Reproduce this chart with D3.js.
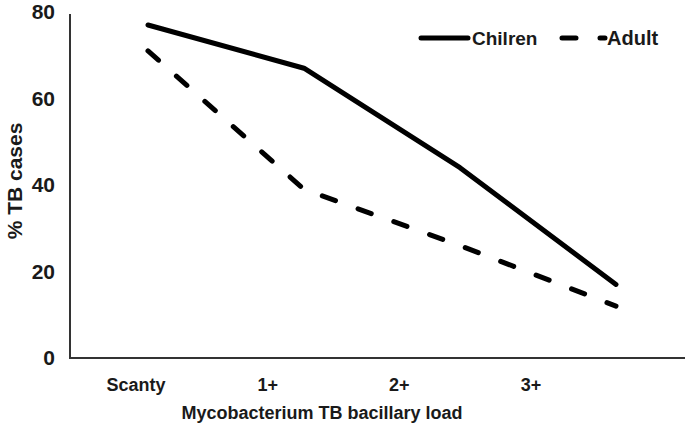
<!DOCTYPE html>
<html>
<head>
<meta charset="utf-8">
<script src="https://cdn.jsdelivr.net/npm/d3@7"></script>
<style>
  html, body { margin: 0; padding: 0; background: #fff; }
  svg { display: block; }
  text { font-family: "Liberation Sans", Arial, sans-serif; font-weight: bold; fill: #1a1a1a; }
</style>
</head>
<body>
<svg id="chart" width="685" height="434"></svg>
<script>
const categories = ["Scanty", "1+", "2+", "3+"];
const children = [77, 67, 44, 17];
const adult = [71, 39, 26, 12];
const yTicks = [0, 20, 40, 60, 80];
const seriesNames = ["Chilren", "Adult"];
const xTitle = "Mycobacterium TB bacillary load";
const yTitle = "% TB cases";

const svg = d3.select("#chart");
const W = 685, H = 434;

const x = d3.scaleBand().domain(categories).range([70, 694]);
const xl = d3.scalePoint().domain(categories).range([136, 531]);
const y = d3.scaleLinear().domain([0, 80]).range([358, 12]);

// axes lines
svg.append("line").attr("x1", x.range()[0]).attr("x2", W).attr("y1", y(0)).attr("y2", y(0))
  .attr("stroke", "#333").attr("stroke-width", 2);
svg.append("line").attr("x1", x.range()[0]).attr("x2", x.range()[0]).attr("y1", y(0) + 1).attr("y2", y(80) + 2)
  .attr("stroke", "#333").attr("stroke-width", 2);

// y tick labels
svg.append("g").selectAll("text").data(yTicks).join("text")
  .attr("x", 55).attr("y", d => y(d)).attr("dy", "0.35em")
  .attr("text-anchor", "end").style("font-size", "21px").text(d => d);

// x tick labels
svg.append("g").selectAll("text").data(categories).join("text")
  .attr("x", d => xl(d)).attr("y", 385).attr("dy", "0.35em")
  .attr("text-anchor", "middle").style("font-size", "18px").text(d => d);

// axis titles
svg.append("text").attr("x", 322).attr("y", 413).attr("dy", "0.35em")
  .attr("text-anchor", "middle").style("font-size", "18px").text(xTitle);
svg.append("text").attr("transform", "translate(15,181) rotate(-90)").attr("dy", "0.35em")
  .attr("text-anchor", "middle").style("font-size", "21px").text(yTitle);

const line = d3.line().x((d, i) => x(categories[i]) + x.bandwidth() / 2).y(d => y(d));

svg.append("path").datum(children).attr("d", line)
  .attr("fill", "none").attr("stroke", "#000").attr("stroke-width", 5)
  .attr("stroke-linecap", "round").attr("stroke-linejoin", "round");
svg.append("path").datum(adult).attr("d", line)
  .attr("fill", "none").attr("stroke", "#000").attr("stroke-width", 5)
  .attr("stroke-dasharray", "14,24")
  .attr("stroke-linecap", "round").attr("stroke-linejoin", "round");

// legend
const lg = svg.append("g");
lg.append("line").attr("x1", 421).attr("x2", 468).attr("y1", 38).attr("y2", 38)
  .attr("stroke", "#000").attr("stroke-width", 5).attr("stroke-linecap", "round");
lg.append("text").attr("x", 472).attr("y", 38).attr("dy", "0.35em").style("font-size", "19px").text(seriesNames[0]);
lg.append("line").attr("x1", 562).attr("x2", 605).attr("y1", 38).attr("y2", 38)
  .attr("stroke", "#000").attr("stroke-width", 5).attr("stroke-linecap", "round")
  .attr("stroke-dasharray", "14,24");
lg.append("text").attr("x", 607).attr("y", 38).attr("dy", "0.35em").style("font-size", "20px").text(seriesNames[1]);
</script>
</body>
</html>
